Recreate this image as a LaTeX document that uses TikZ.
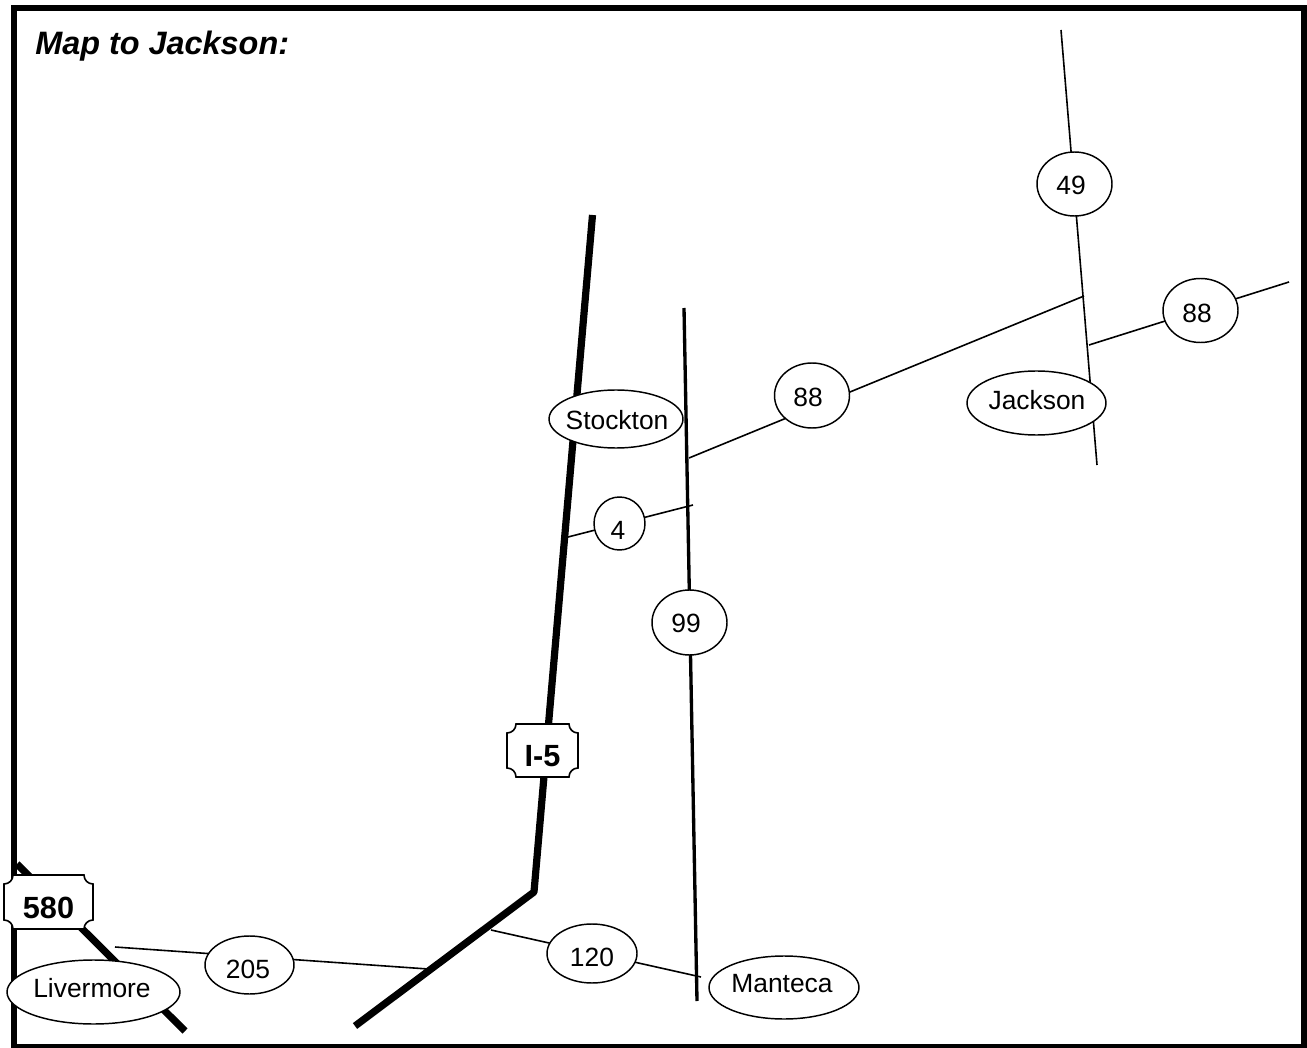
\documentclass[tikz,border=0pt]{standalone}
\usepackage{fontspec}
\setmainfont{Liberation Sans}
\usetikzlibrary{shapes.geometric}
\tikzset{x=0.75pt,y=-0.75pt,
 road/.style={draw=black,line width=1.2pt},
 midroad/.style={draw=black,line width=2.5pt},
 highway/.style={draw=black,line width=5.4pt},
 oval/.style={ellipse,draw=black,line width=1.1pt,fill=white,inner sep=0pt},
 ovaltext/.style={inner sep=0pt,font=\fontsize{19.8}{22}\selectfont},
 plaquetext/.style={inner sep=0pt,font=\fontsize{23}{26}\selectfont\bfseries},
 plaqueline/.style={draw=black,fill=white,line width=1.2pt}}
\newcommand{\plaquebox}[7]{% name cx cy halfw halfh text texty
 \path[plaqueline] (#2-#4+9,#3-#5) -- (#2+#4-9,#3-#5)
  .. controls (#2+#4-9,#3-#5+5) and (#2+#4-5,#3-#5+9) .. (#2+#4,#3-#5+9)
  -- (#2+#4,#3+#5-9)
  .. controls (#2+#4-5,#3+#5-9) and (#2+#4-9,#3+#5-5) .. (#2+#4-9,#3+#5)
  -- (#2-#4+9,#3+#5)
  .. controls (#2-#4+9,#3+#5-5) and (#2-#4+5,#3+#5-9) .. (#2-#4,#3+#5-9)
  -- (#2-#4,#3-#5+9)
  .. controls (#2-#4+5,#3-#5+9) and (#2-#4+9,#3-#5+5) .. (#2-#4+9,#3-#5) -- cycle;
 \node[plaquetext] (#1) at (#2,#7) {#6};}
\newcommand{\ovalsign}[8]{% name cx cy w h tx ty text (w,h in px)
 \node[oval,minimum width=#4*0.75pt,minimum height=#5*0.75pt] (#1) at (#2,#3) {};
 \node[ovaltext] (#1t) at (#6,#7) {#8};}
\begin{document}
\begin{tikzpicture}
\useasboundingbox (0,0) rectangle (1307,1048);
% frame
\draw[draw=black,line width=4.5pt] (14,8) rectangle (1304,1047);
% coordinates
\coordinate (a1) at (592.5,215);
\coordinate (a2) at (534,892);
\coordinate (a3) at (355,1026);
\coordinate (b1) at (17,864);
\coordinate (b2) at (185,1031);
\coordinate (c1) at (684,308);
\coordinate (c2) at (697,1001);
\coordinate (d1) at (1061,30);
\coordinate (d2) at (1097,465);
\coordinate (e1) at (1084,296);
\coordinate (e2) at (689,458);
\coordinate (f1) at (1089,345);
\coordinate (f2) at (1289,282);
\coordinate (g1) at (568,537);
\coordinate (g2) at (693,505);
\coordinate (h1) at (115,947);
\coordinate (h2) at (428,969);
\coordinate (i1) at (491,930);
\coordinate (i2) at (701,977);
% roads
\draw[highway,line join=bevel] (a1) -- (a2) -- (a3);
\draw[highway] (b1) -- (b2);
\draw[midroad] (c1) -- (c2);
\draw[road] (d1) -- (d2);
\draw[road] (e1) -- (e2);
\draw[road] (f1) -- (f2);
\draw[road] (g1) -- (g2);
\draw[road] (h1) -- (h2);
\draw[road] (i1) -- (i2);
% ovals
\ovalsign{n49}{1074.5}{184}{75}{64}{1071}{185.5}{49}
\ovalsign{n88a}{1200.5}{310.5}{75}{64}{1197}{313}{88}
\ovalsign{n88b}{812}{395.5}{75}{65}{808}{397}{88}
\ovalsign{jackson}{1036.5}{403}{139}{64}{1037}{400}{Jackson}
\ovalsign{stockton}{616}{419}{134}{58}{617}{420}{Stockton}
\ovalsign{n4}{619.5}{523.5}{51}{53}{618}{530}{4}
\ovalsign{n99}{689.5}{622.5}{75}{65}{686}{623}{99}
\ovalsign{n120}{592}{953.5}{90}{59}{592}{957}{120}
\ovalsign{n205}{249.5}{965}{89}{58}{248}{969}{205}
\ovalsign{manteca}{784}{987.5}{150}{63}{782}{984}{Manteca}
\ovalsign{livermore}{93.5}{992}{173}{64}{92}{988}{Livermore}
% shields
\plaquebox{i5}{542.5}{750.5}{35.5}{26.5}{I-5}{756}
\plaquebox{s580}{48.5}{902}{44.5}{27}{580}{908}
% title
\node[anchor=base west,inner sep=0pt,font=\fontsize{24.3}{26}\selectfont\bfseries\itshape] (title) at (35,55) {Map to Jackson:};
\end{tikzpicture}
\end{document}
